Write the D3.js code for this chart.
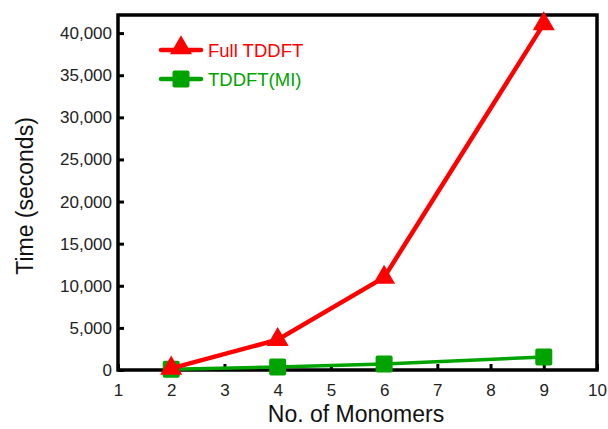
<!DOCTYPE html>
<html>
<head>
<meta charset="utf-8">
<script src="https://cdn.jsdelivr.net/npm/d3@7"></script>
<style>
  body { margin: 0; background: #fff; }
  svg { font-family: "Liberation Sans", Arial, sans-serif; }
</style>
</head>
<body>
<svg id="chart" width="608" height="429"></svg>
<script>
// data
var monomers = [2, 4, 6, 9];
var fullTddft = [200, 3600, 11000, 41100];
var tddftMI = [100, 350, 720, 1550];
var xTicks = [1, 2, 3, 4, 5, 6, 7, 8, 9, 10];
var yTicks = [0, 5000, 10000, 15000, 20000, 25000, 30000, 35000, 40000];

var svg = d3.select("#chart");
var margin = { left: 118, right: 11, top: 15, bottom: 59 };
var width = 608 - margin.left - margin.right;
var height = 429 - margin.top - margin.bottom;

var g = svg.append("g").attr("transform", `translate(${margin.left},${margin.top})`);

var x = d3.scaleLinear().domain([1, 10]).range([0, width]);
var y = d3.scaleLinear().domain([0, 42150]).range([height, 0]);

// ticks pointing inward
var xAxis = g.append("g").attr("transform", `translate(0,${height})`)
  .call(d3.axisBottom(x).tickValues(xTicks).tickSize(-6).tickPadding(14).tickFormat(d3.format("d")));
var yAxis = g.append("g")
  .call(d3.axisLeft(y).tickValues(yTicks).tickSize(-6).tickPadding(6).tickFormat(d3.format(",")));

[xAxis, yAxis].forEach(function (a) {
  a.select(".domain").remove();
  a.selectAll(".tick line").attr("stroke", "#000").attr("stroke-width", 3);
  a.selectAll(".tick text").attr("font-size", "17px").attr("fill", "#222");
});

// frame
g.append("rect")
  .attr("x", 0).attr("y", 0).attr("width", width).attr("height", height)
  .attr("fill", "none").attr("stroke", "#000").attr("stroke-width", 3.5);

var line = d3.line().x(d => x(d[0])).y(d => y(d[1]));

// TDDFT(MI) series
var miData = monomers.map((m, i) => [m, tddftMI[i]]);
g.append("path").datum(miData)
  .attr("d", line).attr("fill", "none").attr("stroke", "#00a300").attr("stroke-width", 3.5);
g.selectAll("rect.mi").data(miData).enter().append("rect")
  .attr("class", "mi")
  .attr("x", d => x(d[0]) - 8.5).attr("y", d => y(d[1]) - 8.5)
  .attr("width", 17).attr("height", 17).attr("rx", 2)
  .attr("fill", "#00a300");

// Full TDDFT series
var fullData = monomers.map((m, i) => [m, fullTddft[i]]);
var tri = d3.symbol().type(d3.symbolTriangle).size(210);
g.append("path").datum(fullData)
  .attr("d", line).attr("fill", "none").attr("stroke", "#ff0000").attr("stroke-width", 4.5);
g.selectAll("path.full").data(fullData).enter().append("path")
  .attr("class", "full")
  .attr("d", tri)
  .attr("transform", d => `translate(${x(d[0])},${y(d[1])})`)
  .attr("fill", "#ff0000");

// legend
var legend = [
  { name: "Full TDDFT", color: "#ff0000", shape: "tri" },
  { name: "TDDFT(MI)", color: "#00a300", shape: "sq" }
];
var lg = svg.append("g").attr("transform", "translate(161,50)");
legend.forEach(function (d, i) {
  var row = lg.append("g").attr("transform", `translate(0,${i * 29})`);
  row.append("line").attr("x1", 0).attr("x2", 40).attr("y1", 0).attr("y2", 0)
    .attr("stroke", d.color).attr("stroke-width", 4.5).attr("stroke-linecap", "round");
  if (d.shape === "tri") {
    row.append("path").attr("d", tri).attr("transform", "translate(20,-2)").attr("fill", d.color);
  } else {
    row.append("rect").attr("x", 11.5).attr("y", -8.5).attr("width", 17).attr("height", 17)
      .attr("rx", 2).attr("fill", d.color);
  }
  row.append("text").attr("x", 47).attr("y", 7).attr("font-size", "18.5px")
    .attr("fill", d.color).text(d.name);
});

// axis titles
svg.append("text")
  .attr("x", 356).attr("y", 422).attr("text-anchor", "middle")
  .attr("font-size", "23px").attr("fill", "#111").text("No. of Monomers");
svg.append("text")
  .attr("transform", "translate(33,196) rotate(-90)").attr("text-anchor", "middle")
  .attr("font-size", "23px").attr("fill", "#111").text("Time (seconds)");
</script>
</body>
</html>
